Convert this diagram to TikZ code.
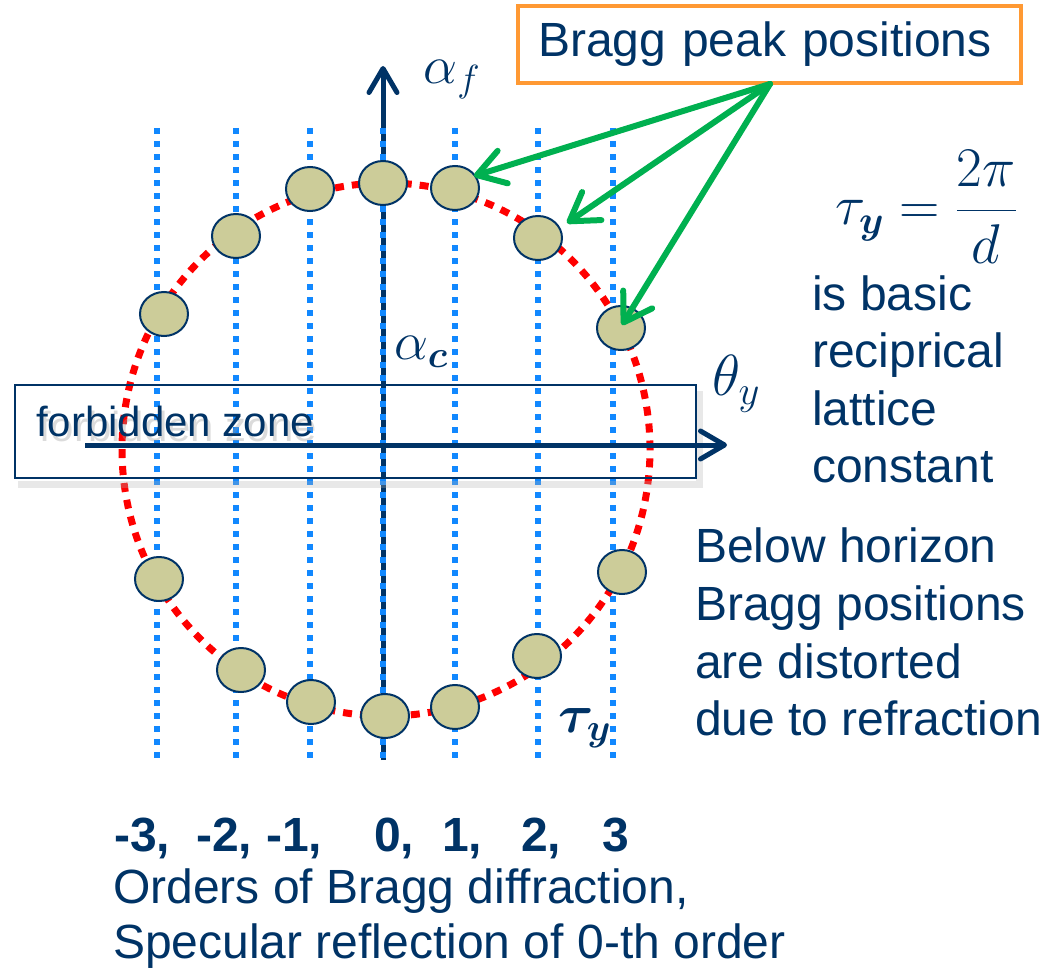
\RequirePackage{fix-cm}
\documentclass[tikz,border=0pt]{standalone}
\usepackage{amsmath}
\usepackage{fontspec}
\setmainfont{Liberation Sans}
\usetikzlibrary{arrows.meta,shapes.geometric}
\definecolor{navy}{RGB}{0,51,102}
\definecolor{dotblue}{RGB}{17,136,255}
\definecolor{peakfill}{RGB}{204,204,153}
\definecolor{arrgreen}{RGB}{0,176,80}
\definecolor{boxorange}{RGB}{255,153,51}
\tikzset{
  bluedot/.style={dotblue, line width=6pt, dash pattern=on 6pt off 7pt},
  reddot/.style={red, line width=7pt, dash pattern=on 9pt off 8pt},
  axisline/.style={navy, line width=5pt, -{Straight Barb[length=24pt,width=28pt,round]}},
  peak/.style={ellipse, draw=navy, line width=2pt, fill=peakfill, minimum width=48pt, minimum height=44pt, inner sep=0pt},
  greenarrow/.style={arrgreen, line width=6pt, line cap=round, -{Straight Barb[length=27pt,width=34pt,round]}},
  txt/.style={text=navy, inner sep=0pt, anchor=base west, font=\fontsize{48}{56}\selectfont},
  mathlbl/.style={text=navy, inner sep=0pt, font=\fontsize{54}{60}\selectfont},
}
\begin{document}
\begin{tikzpicture}[x=1pt,y=-1pt]
\useasboundingbox (0,0) rectangle (1049,971);
% axes
\coordinate (vb) at (383,760); \coordinate (vt) at (383,66);
\coordinate (hl) at (85,445); \coordinate (hr) at (727,445);
\draw[axisline] (vb) -- (vt);
% blue dotted lines
\foreach \x/\n in {157/a,236/b,310/c,383/d,455/e,538/f,613/g}{
  \coordinate (t\n) at (\x,128); \coordinate (b\n) at (\x,762);
  \draw[bluedot] (t\n) -- (b\n);
}
% red dotted ellipse
\coordinate (ec) at (386,449.5);
\draw[reddot] (ec) ellipse [x radius=264pt, y radius=266.5pt];
% forbidden zone box with shadow
\coordinate (fz1) at (15,385); \coordinate (fz2) at (696,478);
\draw[black!30, opacity=0.3, line width=7pt] ([shift={(3,6)}]fz1 -| fz2) -- ([shift={(3,6)}]fz2) -- ([shift={(3,6)}]fz1 |- fz2);
\draw[navy, line width=2pt] (fz1) rectangle (fz2);
\node[txt, text=black!40, opacity=0.35, font=\fontsize{42}{50}\selectfont] (fzs) at (39,441) {forbidden zone};
\node[txt, font=\fontsize{42}{50}\selectfont] (fz) at (36,436) {forbidden zone};
\draw[axisline] (hl) -- (hr);
% peaks
\foreach \n/\x/\y in {p1/383/183, p2/455/188, p3/310/189, p4/236/236, p5/538/238, p6/164/314, p7/621/328,
  p8/159/579, p9/622/572, p10/241/670, p11/537/656, p12/311/702, p13/455/707, p14/385/716}{
  \node[peak] (\n) at (\x,\y) {};
}
% axis labels
\node[mathlbl] (af) at (452,80) {$\alpha_f$};
\node[mathlbl] (ac) at (421,352) {$\alpha_{\boldsymbol{c}}$};
\node[mathlbl, font=\fontsize{58}{64}\selectfont] (ty) at (736,384) {$\theta_y$};
\node[mathlbl] (tyb) at (585,728) {$\boldsymbol{\tau_y}$};
% Bragg box
\node[draw=boxorange, line width=4pt, minimum width=503pt, minimum height=77pt, inner sep=0pt,
  text width=463pt, align=left, text=navy, font=\fontsize{48}{56}\selectfont] (bragg) at (769.5,44.5) {Bragg peak positions};
\coordinate (gs) at (770,84);
\coordinate (g1) at ([shift={(19,-12)}]p2.center);
\coordinate (g2) at ([shift={(29,-15)}]p5.center);
\coordinate (g3) at ([shift={(1,-3)}]p7.center);
\draw[greenarrow] (gs) -- (g1);
\draw[greenarrow] (gs) -- (g2);
\draw[greenarrow] (gs) -- (g3);
% formula
\node[mathlbl, font=\fontsize{56}{60}\selectfont] (form) at (926,207) {$\tau_{\boldsymbol{y}} = \dfrac{2\pi}{d}$};
% right text
\node[txt] (r1) at (812,310) {is basic};
\node[txt] (r2) at (812,367) {reciprical};
\node[txt] (r3) at (812,425) {lattice};
\node[txt] (r4) at (812,482) {constant};
\node[txt] (s1) at (695,562) {Below horizon};
\node[txt] (s2) at (695,620) {Bragg positions};
\node[txt] (s3) at (695,678) {are distorted};
\node[txt] (s4) at (695,735) {due to refraction};
% bottom text
\node[txt, font=\fontsize{48}{56}\selectfont\bfseries] (ord) at (114,851)
  {\rlap{-3,}\hspace{82pt}\rlap{-2,}\hspace{70pt}\rlap{-1,}\hspace{108pt}\rlap{0,}\hspace{68pt}\rlap{1,}\hspace{79pt}\rlap{2,}\hspace{81pt}3};
\node[txt] (o1) at (113,903) {Orders of Bragg diffraction,};
\node[txt] (o2) at (113,958) {Specular reflection of 0-th order};
\end{tikzpicture}
\end{document}
